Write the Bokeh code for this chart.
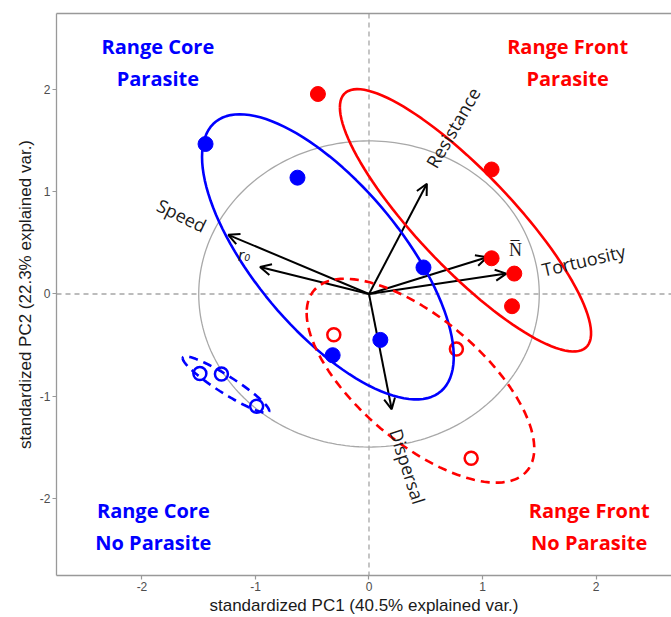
import numpy as np
from bokeh.plotting import figure
from bokeh.models import (Arrow, OpenHead, Range1d, FixedTicker, LinearAxis,
                          Span, ColumnDataSource)
from bokeh.core.properties import value
from bokeh.embed import file_html
from bokeh.resources import INLINE

# ---- PCA scores per group (PC1, PC2) ----
core_parasite_pc1 = [-1.44, -0.63, 0.48, -0.32, 0.10]
core_parasite_pc2 = [1.47, 1.14, 0.26, -0.60, -0.45]

core_noparasite_pc1 = [-1.49, -1.30, -0.99]
core_noparasite_pc2 = [-0.78, -0.785, -1.10]

front_parasite_pc1 = [-0.45, 1.08, 1.08, 1.28, 1.26]
front_parasite_pc2 = [1.96, 1.22, 0.35, 0.20, -0.12]

front_noparasite_pc1 = [-0.31, 0.77, 0.90]
front_noparasite_pc2 = [-0.40, -0.54, -1.61]

# ---- variable loadings (arrow tips) ----
var_names = ["Speed", "r\u2080", "Resistance", "N\u0305", "Tortuosity", "Dispersal"]
var_pc1 = [-1.24, -0.96, 0.51, 1.04, 1.21, 0.20]
var_pc2 = [0.58, 0.265, 1.08, 0.36, 0.20, -1.13]

# label anchors for the variable names
label_pc1 = [-1.65, -1.10, 0.74, 1.29, 1.89, 0.34]
label_pc2 = [0.77, 0.37, 1.63, 0.44, 0.33, -1.69]
label_angle = [-26, 0, 60, 0, 13, -72]

quadrant_lines = ["Range Core", "Parasite", "Range Front", "Parasite",
                  "Range Core", "No Parasite", "Range Front", "No Parasite"]
quadrant_x = [-1.86, -1.86, 1.75, 1.75, -1.90, -1.90, 1.94, 1.94]
quadrant_y = [2.43, 2.11, 2.43, 2.11, -2.12, -2.44, -2.12, -2.44]

tick_values = [-2, -1, 0, 1, 2]
tick_labels = ["-2", "-1", "0", "1", "2"]

ELLIPSE_PROB = 0.68
CIRCLE_RADIUS = 1.5

BLUE = "#0000FF"
RED = "#FF0000"
GREY_LINE = "#999999"


def data_ellipse(xs, ys, prob=ELLIPSE_PROB, n=120):
    """Normal-theory data ellipse as drawn by ggbiplot."""
    theta = np.linspace(-np.pi, np.pi, n)
    circle = np.column_stack([np.cos(theta), np.sin(theta)])
    ed = np.sqrt(-2.0 * np.log(1.0 - prob))
    sigma = np.cov(np.vstack([xs, ys]))
    upper = np.linalg.cholesky(sigma).T
    ell = ed * circle @ upper + np.array([np.mean(xs), np.mean(ys)])
    return ell[:, 0], ell[:, 1]


p = figure(width=671, height=617,
           x_range=Range1d(-2.753, 2.665), y_range=Range1d(-2.759, 2.749),
           output_backend="svg", toolbar_location=None,
           min_border_left=56, min_border_right=0,
           min_border_top=13, min_border_bottom=40)
p.outline_line_color = None
p.grid.visible = False
p.background_fill_color = "white"

# axes
for ax in (p.xaxis[0], p.yaxis[0]):
    ax.ticker = FixedTicker(ticks=tick_values)
    ax.major_label_overrides = dict(zip(tick_values, tick_labels))
    ax.axis_line_color = GREY_LINE
    ax.axis_line_width = 1.3
    ax.major_tick_line_color = GREY_LINE
    ax.major_tick_line_width = 1.2
    ax.major_tick_out = 4
    ax.major_tick_in = 0
    ax.minor_tick_line_color = None
    ax.major_label_text_color = "#4d4d4d"
    ax.major_label_text_font = "Liberation Sans"
    ax.major_label_text_font_size = "12px"
    ax.major_label_standoff = 2
    ax.axis_label_text_font = "Liberation Sans"
    ax.axis_label_text_font_size = "17px"
    ax.axis_label_text_font_style = "normal"
    ax.axis_label_text_color = "#1a1a1a"
    ax.axis_label_standoff = 2

p.xaxis.axis_label = "standardized PC1 (40.5% explained var.)"
p.yaxis.axis_label = "standardized PC2 (22.3% explained var.)"

# top border of the panel
top = LinearAxis(ticker=FixedTicker(ticks=[]), axis_line_color=GREY_LINE,
                 axis_line_width=1.3, major_tick_line_color=None,
                 minor_tick_line_color=None, major_label_text_font_size="0px")
p.add_layout(top, "above")

# zero reference lines
for dim in ("height", "width"):
    p.add_layout(Span(location=0, dimension=dim, line_color="#a6a6a6",
                      line_dash="5 4", line_width=1.3, level="underlay"))

# correlation circle
t = np.linspace(0, 2 * np.pi, 240)
p.line(CIRCLE_RADIUS * np.cos(t), CIRCLE_RADIUS * np.sin(t),
       line_color="#a8a8a8", line_width=1.3)

# loading arrows
for vx, vy in zip(var_pc1, var_pc2):
    p.add_layout(Arrow(x_start=0, y_start=0, x_end=vx, y_end=vy,
                       line_color="black", line_width=2, level="underlay",
                       end=OpenHead(size=11, line_color="black", line_width=2)))

# group points
p.scatter(core_parasite_pc1, core_parasite_pc2, size=15, fill_color=BLUE,
          line_color=BLUE)
p.scatter(front_parasite_pc1, front_parasite_pc2, size=15, fill_color=RED,
          line_color=RED)
p.scatter(core_noparasite_pc1, core_noparasite_pc2, size=13, fill_color=None,
          line_color=BLUE, line_width=2.5)
p.scatter(front_noparasite_pc1, front_noparasite_pc2, size=13, fill_color=None,
          line_color=RED, line_width=2.5)

# group ellipses
ex, ey = data_ellipse(core_parasite_pc1, core_parasite_pc2)
p.line(ex, ey, line_color=BLUE, line_width=2.6)
ex, ey = data_ellipse(front_parasite_pc1, front_parasite_pc2)
p.line(ex, ey, line_color=RED, line_width=2.6)
ex, ey = data_ellipse(core_noparasite_pc1, core_noparasite_pc2)
p.line(ex, ey, line_color=BLUE, line_width=2.6, line_dash="9 6")
ex, ey = data_ellipse(front_noparasite_pc1, front_noparasite_pc2)
p.line(ex, ey, line_color=RED, line_width=2.6, line_dash="9 6")

# variable names (r0 is set in italics, the rest upright)
upright = [i for i, n in enumerate(var_names) if not n.startswith("r")]
italic = [i for i, n in enumerate(var_names) if n.startswith("r")]


def label_source(idx):
    return ColumnDataSource(dict(x=[label_pc1[i] for i in idx],
                                 y=[label_pc2[i] for i in idx],
                                 text=[var_names[i] for i in idx],
                                 angle=[label_angle[i] for i in idx]))


p.text(x="x", y="y", text="text", angle="angle", angle_units="deg",
       source=label_source(upright), text_font=value("Open Sans"),
       text_font_size="18px", text_color="#1a1a1a", text_align="center",
       text_baseline="middle")
p.text(x="x", y="y", text="text", angle="angle", angle_units="deg",
       source=label_source(italic), text_font=value("DejaVu Sans"),
       text_font_size="15px", text_font_style="italic", text_color="#1a1a1a",
       text_align="center", text_baseline="middle")

# quadrant captions
q_colors = [BLUE, BLUE, RED, RED, BLUE, BLUE, RED, RED]
q_src = ColumnDataSource(dict(x=quadrant_x, y=quadrant_y, text=quadrant_lines,
                              color=q_colors))
p.text(x="x", y="y", text="text", source=q_src, text_color="color",
       text_font=value("Open Sans"), text_font_size="20px",
       text_font_style="bold", text_align="center", text_baseline="middle")

open("out.html", "w").write(file_html(p, INLINE))
